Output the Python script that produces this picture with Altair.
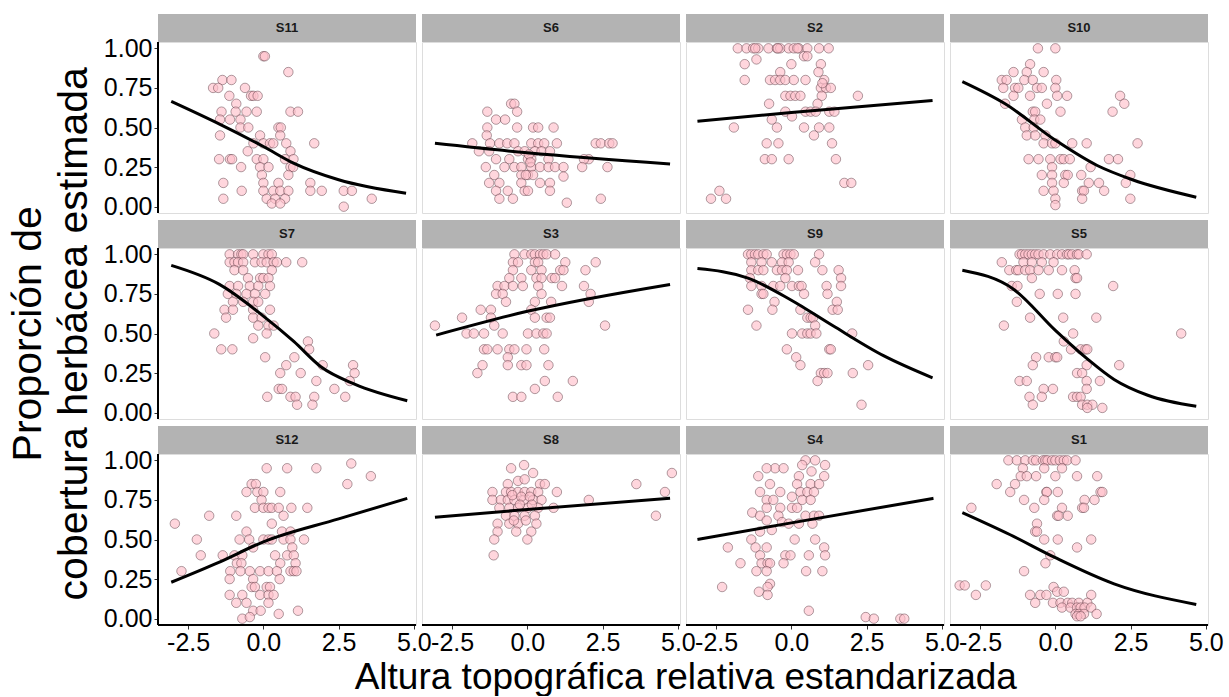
import altair as alt
import pandas as pd

FONT = "Liberation Sans"
SITES = ["S11", "S6", "S2", "S10", "S7", "S3", "S9", "S5", "S12", "S8", "S4", "S1"]
LEFT_COL = ["S11", "S7", "S12"]
BOTTOM_ROW = ["S12", "S8", "S4", "S1"]

S11_pts = [(0.0, 0.95), (0.05, 0.95), (0.83, 0.85), (-1.36, 0.8), (-1.06, 0.8), (-1.67, 0.75), (-1.5, 0.75),
           (-0.61, 0.75), (-1.13, 0.7), (-0.41, 0.7), (-0.33, 0.7), (-0.19, 0.7), (-0.9, 0.65), (-1.39, 0.6),
           (-0.92, 0.6), (-0.56, 0.6), (-0.22, 0.6), (0.9, 0.6), (1.15, 0.6), (-1.44, 0.55), (-1.11, 0.55),
           (-0.76, 0.55), (-0.76, 0.5), (-0.5, 0.5), (0.5, 0.5), (0.58, 0.5), (-1.44, 0.45), (-0.11, 0.45),
           (0.56, 0.45), (-0.33, 0.4), (0.0, 0.4), (0.22, 0.4), (0.33, 0.4), (0.76, 0.4), (1.69, 0.4),
           (-0.52, 0.35), (0.9, 0.35), (-1.47, 0.3), (-1.11, 0.3), (-1.04, 0.3), (-0.22, 0.3), (0.0, 0.3),
           (0.72, 0.3), (1.0, 0.3), (-0.74, 0.25), (-0.11, 0.25), (0.17, 0.25), (0.9, 0.25), (0.99, 0.25),
           (-0.05, 0.2), (0.83, 0.2), (-1.33, 0.15), (0.0, 0.15), (0.5, 0.15), (1.56, 0.15), (-0.72, 0.1),
           (0.0, 0.1), (0.33, 0.1), (0.56, 0.1), (0.83, 0.1), (1.56, 0.1), (1.94, 0.1), (2.67, 0.1), (2.94, 0.1),
           (-1.33, 0.05), (0.11, 0.05), (0.39, 0.05), (0.72, 0.05), (3.6, 0.05), (0.28, 0.02), (0.56, 0.02),
           (2.67, 0.0)]
S6_pts = [(-0.54, 0.65), (-0.43, 0.65), (-0.34, 0.6), (-1.33, 0.6), (-1.04, 0.55), (-0.74, 0.55), (-1.33, 0.5),
          (-0.34, 0.5), (0.19, 0.5), (0.36, 0.5), (0.87, 0.5), (-1.35, 0.45), (-1.83, 0.4), (-1.24, 0.4),
          (-0.93, 0.4), (-0.67, 0.4), (-0.43, 0.4), (0.13, 0.4), (0.36, 0.4), (0.56, 0.4), (0.98, 0.4),
          (2.27, 0.4), (2.44, 0.4), (2.72, 0.4), (2.83, 0.4), (-1.61, 0.35), (-1.27, 0.35), (-0.31, 0.35),
          (-0.09, 0.35), (0.25, 0.35), (0.47, 0.35), (0.75, 0.35), (2.04, 0.3), (-1.04, 0.3), (-0.6, 0.3),
          (0.02, 0.3), (0.13, 0.3), (0.7, 0.3), (1.88, 0.3), (-1.38, 0.25), (-0.76, 0.25), (-0.43, 0.25),
          (-0.2, 0.25), (0.13, 0.25), (0.42, 0.25), (0.7, 0.25), (0.92, 0.25), (1.2, 0.25), (1.82, 0.25),
          (2.66, 0.25), (-1.1, 0.2), (-0.2, 0.2), (0.02, 0.2), (0.19, 0.2), (1.2, 0.19), (-1.27, 0.15),
          (-0.93, 0.15), (-0.2, 0.15), (0.42, 0.15), (0.75, 0.15), (-1.04, 0.1), (-0.65, 0.1), (-0.09, 0.1),
          (0.02, 0.1), (0.75, 0.1), (-0.93, 0.05), (-0.48, 0.05), (2.44, 0.05), (1.31, 0.025), (0.05, 0.33),
          (0.1, 0.28), (-0.05, 0.2)]
S2_pts = [(-1.78, 1.0), (-1.49, 1.0), (-1.27, 1.0), (-1.1, 1.0), (-0.76, 1.0), (-0.48, 1.0), (-0.37, 1.0),
          (-0.09, 1.0), (0.08, 1.0), (0.25, 1.0), (0.53, 1.0), (0.92, 1.0), (1.24, 1.0), (-1.2, 1.0),
          (-0.45, 1.0), (0.2, 1.0), (0.42, 0.95), (0.53, 0.95), (-1.55, 0.9), (0.0, 0.9), (0.98, 0.9),
          (-1.16, 0.93), (-0.37, 0.85), (0.9, 0.85), (-1.55, 0.8), (-0.71, 0.8), (-0.54, 0.8), (-0.37, 0.8),
          (-0.2, 0.8), (0.08, 0.8), (0.47, 0.8), (1.09, 0.8), (0.98, 0.75), (1.15, 0.75), (1.31, 0.75),
          (1.03, 0.78), (-0.2, 0.7), (-0.03, 0.7), (0.13, 0.7), (0.3, 0.7), (1.01, 0.7), (2.21, 0.7),
          (-0.74, 0.65), (0.87, 0.65), (-0.2, 0.6), (0.47, 0.6), (0.64, 0.6), (0.81, 0.6), (1.26, 0.6),
          (1.43, 0.6), (0.02, 0.57), (-0.65, 0.55), (-1.91, 0.5), (-0.48, 0.5), (0.42, 0.5), (0.92, 0.5),
          (1.26, 0.5), (0.75, 0.45), (-0.82, 0.4), (-0.43, 0.4), (1.35, 0.4), (-0.88, 0.3), (-0.65, 0.3),
          (-0.09, 0.3), (1.48, 0.3), (1.76, 0.15), (1.99, 0.15), (-2.39, 0.1), (-2.67, 0.05), (-2.17, 0.05)]
S10_pts = [(-0.58, 1.0), (0.0, 1.0), (-0.84, 0.9), (-1.39, 0.85), (-0.95, 0.85), (-0.39, 0.85), (-1.78, 0.8),
           (-1.62, 0.8), (-1.03, 0.8), (-0.75, 0.8), (0.03, 0.8), (-1.73, 0.75), (-1.34, 0.75), (-1.23, 0.75),
           (-0.61, 0.75), (-0.45, 0.75), (0.0, 0.75), (-1.39, 0.7), (-0.84, 0.7), (0.06, 0.7), (0.39, 0.7),
           (2.15, 0.7), (-1.67, 0.65), (-0.28, 0.65), (2.29, 0.65), (-0.75, 0.6), (-0.67, 0.6), (0.17, 0.6),
           (1.9, 0.6), (-1.11, 0.55), (-0.7, 0.55), (-0.5, 0.55), (-1.0, 0.5), (-0.72, 0.5), (-0.95, 0.45),
           (-0.67, 0.45), (-0.33, 0.45), (-0.39, 0.4), (-0.11, 0.4), (0.0, 0.4), (0.56, 0.4), (1.04, 0.4),
           (2.73, 0.4), (-0.89, 0.3), (-0.56, 0.3), (-0.17, 0.3), (0.17, 0.3), (0.28, 0.3), (0.48, 0.3),
           (1.78, 0.3), (2.08, 0.3), (-0.11, 0.25), (1.17, 0.25), (-0.45, 0.2), (-0.11, 0.2), (0.33, 0.2),
           (0.41, 0.2), (0.86, 0.2), (2.49, 0.2), (-0.11, 0.15), (0.28, 0.15), (1.11, 0.15), (1.45, 0.15),
           (2.34, 0.15), (-0.39, 0.1), (-0.06, 0.1), (0.89, 0.1), (0.95, 0.1), (1.62, 0.1), (0.0, 0.05),
           (0.89, 0.05), (2.49, 0.05), (0.0, 0.01)]
S7_pts = [(-1.12, 1.0), (-0.84, 1.0), (-0.73, 1.0), (-0.67, 1.0), (-0.34, 1.0), (0.0, 1.0), (0.17, 1.0),
          (0.28, 1.0), (-1.12, 0.95), (-0.96, 0.95), (-0.84, 0.95), (-0.67, 0.95), (-0.28, 0.95), (-0.06, 0.95),
          (0.11, 0.95), (0.34, 0.95), (0.45, 0.95), (0.76, 0.95), (1.29, 0.95), (-0.96, 0.9), (-0.67, 0.9),
          (0.28, 0.9), (-0.51, 0.85), (-0.11, 0.85), (0.0, 0.85), (0.17, 0.85), (-1.12, 0.8), (-0.84, 0.8),
          (-0.45, 0.8), (-0.17, 0.8), (0.22, 0.8), (-1.18, 0.75), (-0.9, 0.75), (-0.56, 0.75), (-0.28, 0.75),
          (0.06, 0.75), (-1.01, 0.7), (-0.67, 0.7), (-0.34, 0.7), (-0.17, 0.7), (-1.29, 0.65), (-1.01, 0.65),
          (-0.34, 0.65), (0.22, 0.65), (-1.24, 0.6), (-0.34, 0.6), (-0.06, 0.6), (-0.17, 0.55), (0.17, 0.55),
          (0.34, 0.55), (-1.63, 0.5), (0.11, 0.5), (-0.34, 0.47), (1.48, 0.45), (-1.4, 0.4), (-1.03, 0.4),
          (1.52, 0.4), (0.06, 0.35), (1.03, 0.35), (0.76, 0.3), (1.97, 0.3), (2.98, 0.3), (0.56, 0.25),
          (1.24, 0.25), (3.03, 0.25), (1.76, 0.2), (2.87, 0.2), (0.51, 0.15), (0.62, 0.15), (2.36, 0.15),
          (0.13, 0.1), (0.9, 0.1), (1.07, 0.1), (1.69, 0.1), (2.72, 0.1), (1.12, 0.05), (1.63, 0.05)]
S3_pts = [(-0.43, 1.0), (-0.09, 1.0), (0.13, 1.0), (0.25, 1.0), (0.42, 1.0), (0.53, 1.0), (0.64, 1.0),
          (0.92, 1.0), (-0.48, 0.95), (-0.31, 0.95), (0.25, 0.95), (0.36, 0.95), (1.26, 0.95), (2.27, 0.95),
          (-0.48, 0.9), (0.13, 0.9), (0.47, 0.9), (1.09, 0.9), (1.2, 0.9), (1.93, 0.9), (-0.6, 0.85),
          (-0.2, 0.85), (0.3, 0.85), (0.47, 0.85), (0.81, 0.85), (0.92, 0.85), (-0.99, 0.8), (-0.76, 0.8),
          (-0.48, 0.8), (-0.15, 0.8), (0.36, 0.8), (1.15, 0.8), (1.88, 0.8), (-1.04, 0.75), (-0.82, 0.75),
          (0.47, 0.75), (2.1, 0.75), (-0.71, 0.7), (0.25, 0.7), (0.79, 0.7), (2.04, 0.7), (-1.55, 0.65),
          (-1.21, 0.65), (0.13, 0.65), (-2.17, 0.6), (-1.21, 0.6), (0.25, 0.6), (0.64, 0.6), (0.75, 0.6),
          (-3.07, 0.55), (-1.1, 0.55), (2.58, 0.55), (-2.02, 0.5), (-1.78, 0.5), (-1.44, 0.5), (-0.82, 0.5),
          (0.02, 0.5), (0.3, 0.5), (0.53, 0.5), (0.64, 0.5), (-1.44, 0.4), (-1.33, 0.4), (-0.99, 0.4),
          (-0.6, 0.4), (-0.43, 0.4), (-0.03, 0.4), (0.56, 0.4), (-0.65, 0.35), (-1.49, 0.3), (-0.65, 0.3),
          (-0.2, 0.3), (-0.03, 0.3), (0.7, 0.3), (-1.66, 0.25), (0.58, 0.2), (1.51, 0.2), (0.25, 0.15),
          (-0.48, 0.1), (-0.2, 0.1), (1.01, 0.1)]
S9_pts = [(-1.44, 1.0), (-1.33, 1.0), (-1.21, 1.0), (-1.1, 1.0), (-0.93, 1.0), (-0.82, 1.0), (-0.26, 1.0),
          (-0.15, 1.0), (-0.03, 1.0), (0.08, 1.0), (0.92, 1.0), (-1.33, 0.95), (-0.99, 0.95), (-0.65, 0.95),
          (-0.31, 0.95), (-0.09, 0.95), (0.79, 0.95), (-1.33, 0.9), (-1.1, 0.9), (-0.93, 0.9), (-0.48, 0.9),
          (-0.31, 0.9), (-0.15, 0.9), (0.22, 0.9), (1.03, 0.9), (1.57, 0.9), (-1.38, 0.85), (-0.2, 0.85),
          (1.65, 0.85), (-1.33, 0.8), (-0.99, 0.8), (-0.6, 0.8), (-0.37, 0.8), (0.02, 0.8), (0.25, 0.8),
          (0.34, 0.8), (1.17, 0.8), (1.65, 0.8), (-0.99, 0.75), (-0.93, 0.75), (0.42, 0.75), (1.2, 0.75),
          (-0.56, 0.7), (1.51, 0.7), (-1.44, 0.65), (-0.63, 0.65), (0.3, 0.65), (1.37, 0.65), (1.54, 0.65),
          (0.53, 0.6), (0.64, 0.6), (0.72, 0.6), (-1.16, 0.55), (0.79, 0.55), (0.02, 0.5), (0.36, 0.5),
          (0.53, 0.5), (0.64, 0.5), (0.83, 0.5), (2.02, 0.5), (-0.15, 0.4), (1.26, 0.4), (1.31, 0.4),
          (0.16, 0.35), (0.3, 0.3), (2.55, 0.3), (0.98, 0.25), (1.09, 0.25), (1.2, 0.25), (2.04, 0.25),
          (0.87, 0.2), (2.33, 0.05)]
S5_pts = [(-1.19, 1.0), (-1.11, 1.0), (-1.0, 1.0), (-0.89, 1.0), (-0.78, 1.0), (-0.67, 1.0), (-0.56, 1.0),
          (-0.39, 1.0), (-0.17, 1.0), (0.06, 1.0), (0.22, 1.0), (0.39, 1.0), (0.45, 1.0), (0.56, 1.0),
          (0.72, 1.0), (0.78, 1.0), (1.04, 1.0), (-1.78, 0.95), (-1.06, 0.95), (-0.78, 0.95), (-0.45, 0.95),
          (-0.06, 0.95), (-1.53, 0.9), (-1.3, 0.9), (-1.23, 0.9), (-1.0, 0.9), (-0.84, 0.9), (-0.56, 0.9),
          (-0.22, 0.9), (0.22, 0.9), (0.64, 0.9), (-0.78, 0.85), (0.67, 0.85), (0.72, 0.85), (-1.45, 0.8),
          (-1.26, 0.8), (1.92, 0.8), (-0.52, 0.75), (0.08, 0.75), (0.67, 0.75), (-1.28, 0.7), (-0.84, 0.6),
          (0.26, 0.6), (1.36, 0.6), (-1.71, 0.55), (0.59, 0.5), (4.18, 0.5), (0.28, 0.45), (0.52, 0.4),
          (0.84, 0.4), (1.0, 0.4), (1.06, 0.4), (-0.64, 0.35), (-0.22, 0.35), (0.0, 0.35), (0.06, 0.35),
          (-0.75, 0.3), (1.04, 0.3), (2.12, 0.3), (0.72, 0.25), (0.89, 0.25), (-1.19, 0.2), (-0.95, 0.2),
          (1.04, 0.2), (1.48, 0.2), (-0.39, 0.15), (-0.08, 0.15), (1.04, 0.15), (-0.86, 0.1), (-0.45, 0.1),
          (0.59, 0.1), (0.72, 0.1), (0.84, 0.1), (-0.75, 0.05), (0.89, 0.05), (1.06, 0.05), (1.23, 0.05),
          (1.06, 0.03), (1.56, 0.03)]
S12_pts = [(2.92, 0.98), (0.11, 0.95), (0.79, 0.95), (1.76, 0.95), (3.57, 0.9), (2.79, 0.85), (-0.39, 0.85),
           (-0.25, 0.85), (-0.56, 0.8), (-0.2, 0.8), (0.0, 0.8), (0.56, 0.8), (-0.06, 0.75), (-0.28, 0.7),
           (0.0, 0.7), (0.17, 0.7), (0.28, 0.7), (0.51, 0.7), (0.93, 0.7), (1.46, 0.7), (-1.8, 0.65),
           (-0.9, 0.65), (0.67, 0.65), (-2.94, 0.6), (0.28, 0.6), (-0.56, 0.55), (0.62, 0.55), (0.9, 0.55),
           (-2.21, 0.5), (-0.79, 0.5), (-0.47, 0.5), (0.0, 0.5), (0.17, 0.5), (0.28, 0.5), (0.67, 0.5),
           (0.9, 0.5), (1.35, 0.5), (-0.34, 0.45), (0.96, 0.45), (-2.08, 0.4), (-1.35, 0.4), (-0.96, 0.4),
           (-0.7, 0.4), (0.39, 0.4), (0.79, 0.4), (1.01, 0.4), (-0.88, 0.35), (-0.73, 0.35), (0.56, 0.35),
           (1.07, 0.35), (-2.72, 0.3), (-1.1, 0.3), (-0.76, 0.3), (-0.45, 0.3), (-0.11, 0.3), (0.17, 0.3),
           (0.45, 0.3), (0.9, 0.3), (1.01, 0.3), (1.1, 0.3), (-1.12, 0.25), (-0.34, 0.25), (0.54, 0.25),
           (-0.39, 0.2), (-0.28, 0.2), (0.11, 0.2), (0.22, 0.2), (-0.11, 0.15), (0.17, 0.15), (0.34, 0.15),
           (-1.12, 0.15), (-0.7, 0.15), (-0.9, 0.1), (-0.56, 0.1), (0.17, 0.1), (-0.34, 0.05), (-0.09, 0.05),
           (1.15, 0.05), (0.51, 0.03), (-0.7, 0.0), (-0.45, 0.01)]
S8_pts = [(-0.11, 0.97), (4.8, 0.92), (-0.54, 0.95), (0.19, 0.92), (3.62, 0.85), (-0.65, 0.85), (-0.31, 0.87),
          (-0.09, 0.88), (0.42, 0.85), (0.58, 0.85), (-1.16, 0.8), (-0.71, 0.8), (-0.54, 0.8), (-0.31, 0.8),
          (-0.09, 0.8), (0.13, 0.8), (0.36, 0.8), (0.98, 0.8), (4.57, 0.8), (-1.16, 0.75), (-0.88, 0.75),
          (-0.65, 0.75), (-0.43, 0.75), (-0.11, 0.75), (0.19, 0.75), (0.47, 0.75), (2.04, 0.75), (-0.93, 0.7),
          (-0.6, 0.7), (-0.31, 0.7), (0.02, 0.7), (0.36, 0.7), (0.87, 0.7), (-0.71, 0.65), (-0.43, 0.65),
          (-0.09, 0.65), (0.25, 0.65), (4.27, 0.65), (-0.99, 0.6), (-0.6, 0.6), (-0.31, 0.6), (0.3, 0.6),
          (-0.99, 0.55), (-0.37, 0.55), (0.13, 0.55), (-1.1, 0.5), (0.0, 0.5), (-1.12, 0.4), (-0.5, 0.78),
          (-0.2, 0.77), (0.08, 0.77), (-0.45, 0.62), (-0.05, 0.62), (-0.25, 0.72), (0.15, 0.72)]
S4_pts = [(0.47, 1.0), (0.79, 1.0), (1.12, 0.97), (-0.54, 0.95), (-0.26, 0.95), (-0.82, 0.95), (0.36, 0.97),
          (-1.1, 0.9), (0.25, 0.9), (0.67, 0.93), (1.09, 0.9), (-0.71, 0.85), (0.19, 0.85), (0.64, 0.85),
          (0.92, 0.85), (-1.04, 0.8), (-0.37, 0.8), (0.3, 0.8), (0.53, 0.8), (0.75, 0.8), (-0.82, 0.75),
          (-0.6, 0.75), (0.02, 0.77), (0.36, 0.75), (0.64, 0.75), (-0.82, 0.7), (-0.37, 0.7), (0.02, 0.7),
          (0.19, 0.7), (-1.3, 0.67), (-1.04, 0.65), (-0.43, 0.65), (0.47, 0.65), (0.75, 0.65), (0.92, 0.65),
          (-0.82, 0.62), (-0.31, 0.61), (-0.09, 0.6), (0.25, 0.6), (0.7, 0.6), (-1.04, 0.55), (-0.65, 0.56),
          (-1.33, 0.5), (0.11, 0.5), (0.79, 0.5), (-2.11, 0.45), (-1.19, 0.45), (-0.82, 0.45), (1.09, 0.45),
          (-1.04, 0.4), (-0.2, 0.4), (-0.03, 0.4), (0.58, 0.4), (1.12, 0.4), (-1.69, 0.35), (-0.99, 0.35),
          (-0.79, 0.35), (-0.71, 0.35), (-0.26, 0.35), (-1.16, 0.3), (-0.82, 0.3), (0.49, 0.3), (1.03, 0.3),
          (-0.71, 0.22), (-0.79, 0.2), (-2.3, 0.2), (-1.08, 0.17), (-0.79, 0.15), (0.58, 0.05), (2.47, 0.01),
          (2.74, 0.0), (3.62, 0.0), (3.75, 0.0)]
S1_pts = [(-1.56, 1.0), (-1.28, 1.0), (-1.0, 1.0), (-0.75, 1.0), (-0.64, 1.0), (-0.41, 1.0), (-0.33, 1.0),
          (-0.26, 1.0), (-0.11, 1.0), (0.0, 1.0), (0.15, 1.0), (0.28, 1.0), (0.39, 1.0), (0.67, 1.0),
          (-1.08, 0.95), (-0.37, 0.95), (0.22, 0.95), (-1.15, 0.9), (-0.95, 0.9), (-0.64, 0.9), (0.0, 0.9),
          (0.72, 0.9), (1.39, 0.9), (-1.95, 0.85), (-1.34, 0.85), (-1.5, 0.8), (-0.3, 0.8), (-0.28, 0.8),
          (0.08, 0.8), (1.5, 0.8), (1.56, 0.8), (-1.04, 0.75), (-0.37, 0.75), (0.97, 0.75), (1.3, 0.75),
          (-2.79, 0.7), (-0.7, 0.7), (0.22, 0.7), (0.89, 0.7), (0.95, 0.7), (0.06, 0.65), (0.11, 0.65),
          (0.41, 0.65), (-0.61, 0.6), (-0.67, 0.55), (-0.61, 0.55), (-0.37, 0.5), (0.08, 0.5), (1.19, 0.5),
          (0.72, 0.45), (-0.17, 0.4), (-0.33, 0.35), (-1.04, 0.3), (-3.18, 0.21), (-3.01, 0.21), (-2.31, 0.21),
          (-0.06, 0.2), (0.06, 0.17), (0.28, 0.17), (-2.64, 0.15), (-0.84, 0.15), (-0.5, 0.15), (-0.3, 0.15),
          (1.19, 0.15), (-0.67, 0.1), (-0.08, 0.1), (0.17, 0.1), (0.41, 0.1), (0.56, 0.1), (0.78, 0.1),
          (1.06, 0.1), (0.22, 0.07), (0.5, 0.07), (0.72, 0.07), (0.84, 0.07), (0.97, 0.07), (1.19, 0.07),
          (0.67, 0.03), (0.78, 0.03), (0.95, 0.03), (1.37, 0.03), (0.72, 0.015), (0.84, 0.015)]

# fitted curves (x, y)
S11_fit_x = [-3.06, -1.44, 0.0, 1.0, 2.5, 4.74]
S11_fit_y = [0.665, 0.52, 0.38, 0.275, 0.17, 0.085]
S6_fit_x = [-3.07, 0.0, 4.74]
S6_fit_y = [0.40, 0.34, 0.27]
S2_fit_x = [-3.12, 0.0, 4.69]
S2_fit_y = [0.54, 0.595, 0.67]
S10_fit_x = [-3.09, -1.67, 0.0, 1.39, 2.56, 4.68]
S10_fit_y = [0.79, 0.65, 0.42, 0.26, 0.17, 0.06]
S7_fit_x = [-3.06, -1.46, 0.0, 1.01, 1.91, 3.03, 4.78]
S7_fit_y = [0.93, 0.81, 0.61, 0.45, 0.29, 0.18, 0.075]
S3_fit_x = [-3.03, 0.0, 4.74]
S3_fit_y = [0.49, 0.64, 0.81]
S9_fit_x = [-3.12, -1.44, 0.0, 1.37, 3.06, 4.69]
S9_fit_y = [0.91, 0.85, 0.71, 0.55, 0.36, 0.22]
S5_fit_x = [-3.09, -1.39, 0.0, 1.06, 1.95, 3.07, 4.68]
S5_fit_y = [0.90, 0.78, 0.52, 0.34, 0.21, 0.11, 0.04]
S12_fit_x = [-3.06, -1.5, 0.0, 2.5, 4.78]
S12_fit_y = [0.23, 0.354, 0.485, 0.63, 0.76]
S8_fit_x = [-3.07, 0.0, 4.74]
S8_fit_y = [0.64, 0.69, 0.76]
S4_fit_x = [-3.12, 0.0, 4.72]
S4_fit_y = [0.50, 0.605, 0.76]
S1_fit_x = [-3.09, -1.5, 0.0, 1.95, 4.68]
S1_fit_y = [0.67, 0.53, 0.385, 0.22, 0.09]

POINTS = [S11_pts, S6_pts, S2_pts, S10_pts, S7_pts, S3_pts, S9_pts, S5_pts, S12_pts, S8_pts, S4_pts, S1_pts]
FITS = [(S11_fit_x, S11_fit_y), (S6_fit_x, S6_fit_y), (S2_fit_x, S2_fit_y), (S10_fit_x, S10_fit_y),
        (S7_fit_x, S7_fit_y), (S3_fit_x, S3_fit_y), (S9_fit_x, S9_fit_y), (S5_fit_x, S5_fit_y),
        (S12_fit_x, S12_fit_y), (S8_fit_x, S8_fit_y), (S4_fit_x, S4_fit_y), (S1_fit_x, S1_fit_y)]

rows = []
for site, pts in zip(SITES, POINTS):
    for x, y in pts:
        rows.append({"site": site, "kind": "pt", "x": x, "y": y, "i": 0})
for site, (fx, fy) in zip(SITES, FITS):
    for i, (x, y) in enumerate(zip(fx, fy)):
        rows.append({"site": site, "kind": "fit", "x": x, "y": y, "i": i})
df = pd.DataFrame(rows)

W, H = 258, 171
xscale = alt.Scale(domain=[-3.5, 5.07], nice=False, zero=False)
yscale = alt.Scale(domain=[-0.04, 1.04], nice=False, zero=False)

xaxis = alt.Axis(values=[-2.5, 0, 2.5, 5], labelExpr="replace(format(datum.value, '.1f'), '\u2212', '-')",
                 title=None, grid=False, labelFontSize=25, labelFont=FONT, labelColor="black",
                 labelOverlap=False, labelFlush=False, labelBound=False, tickColor="#333333", tickSize=4,
                 domain=False, labelPadding=1)
yaxis = alt.Axis(values=[0, 0.25, 0.5, 0.75, 1.0], format=".2f", title=None, grid=False, labelFontSize=25,
                 labelFont=FONT, labelColor="black", labelOverlap=False, labelFlush=False, tickColor="#333333",
                 tickSize=4, domain=False, labelPadding=2)

first = "datum.kind == 'fit' && datum.i == 0"
base = alt.Chart()
pts = base.transform_filter("datum.kind == 'pt'").mark_circle(
    size=90, fill="pink", fillOpacity=0.65, stroke="#4a2a32", strokeOpacity=0.55, strokeWidth=0.8, opacity=1
).encode(x=alt.X("x:Q", scale=xscale, axis=xaxis), y=alt.Y("y:Q", scale=yscale, axis=yaxis))
fit = base.transform_filter("datum.kind == 'fit'").mark_line(
    color="black", strokeWidth=3, interpolate="monotone"
).encode(x="x:Q", y="y:Q", order="i:Q")
strip = base.transform_filter(first).mark_rect(
    fill="#b3b3b3", clip=False
).encode(x=alt.value(0), x2=alt.value(W), y=alt.value(-28), y2=alt.value(0))
label = base.transform_filter(first).mark_text(
    font=FONT, fontSize=13, fontWeight="bold", color="#1a1a1a", baseline="middle", align="center"
).encode(x=alt.value(W / 2), y=alt.value(-14), text="site:N")
left_line = base.transform_filter(first).transform_filter(
    alt.FieldOneOfPredicate(field="site", oneOf=LEFT_COL)
).mark_rule(color="black", strokeWidth=2).encode(x=alt.value(0), y=alt.value(0), y2=alt.value(H))
bottom_line = base.transform_filter(first).transform_filter(
    alt.FieldOneOfPredicate(field="site", oneOf=BOTTOM_ROW)
).mark_rule(color="black", strokeWidth=2).encode(x=alt.value(0), x2=alt.value(W), y=alt.value(H))

layer = alt.layer(pts, fit, strip, label, left_line, bottom_line, data=df).properties(width=W, height=H)

facet = layer.facet(
    facet=alt.Facet("site:N", sort=SITES,
                    header=alt.Header(labels=False, labelExpr="''", labelFontSize=1, labelPadding=0,
                                      labelColor="transparent", title=None)),
    columns=4,
    spacing={"row": 35, "column": 6},
    bounds="flush",
    title=alt.TitleParams(["Proporción de", "cobertura herbácea estimada"], orient="left", anchor="middle",
                          fontSize=41, fontWeight="normal", font=FONT, color="black", lineHeight=46, offset=7),
)

chart = alt.vconcat(
    facet,
    title=alt.TitleParams("Altura topográfica relativa estandarizada", orient="bottom", anchor="middle",
                          fontSize=37, fontWeight="normal", font=FONT, color="black", offset=5, dx=70),
).properties(
    padding={"left": 8, "top": 12, "right": 0, "bottom": 0},
).configure_view(stroke="#cccccc", strokeWidth=1).configure_header(
    labels=False, title=None
).configure(background="white")

chart.save("out.html", embed_options={"renderer": "svg", "actions": False})
